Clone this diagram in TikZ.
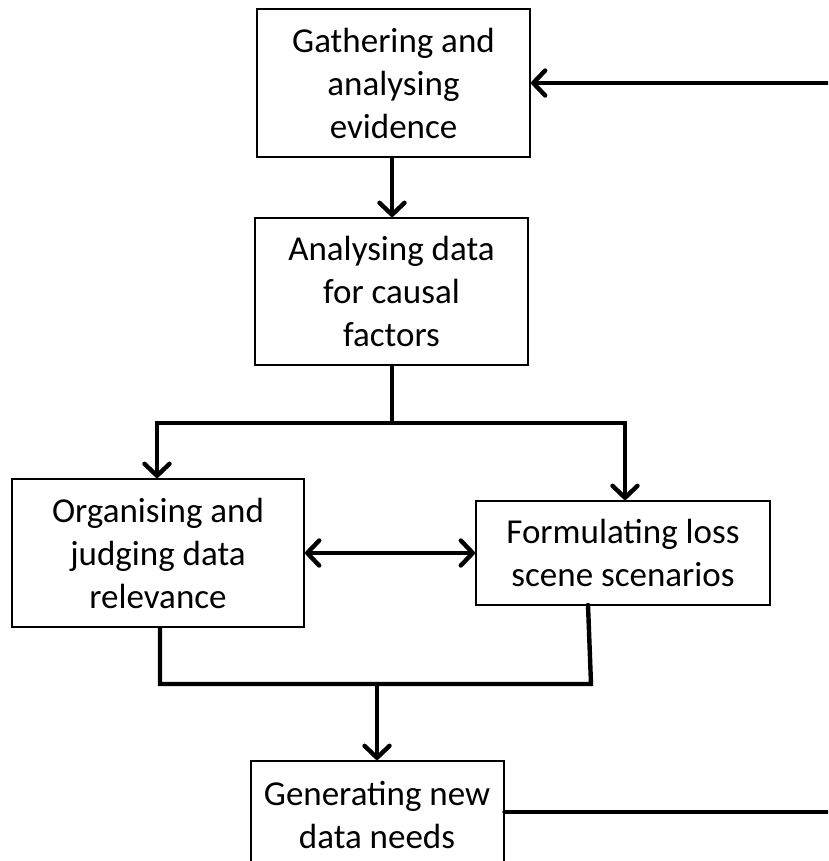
\documentclass[tikz,border=0pt]{standalone}
\usepackage{fontspec}
\setmainfont{Carlito}
\usetikzlibrary{arrows.meta}

\tikzset{
  stage/.style={draw=black, line width=2pt, fill=white, align=center,
    font=\fontsize{35}{43}\selectfont, inner sep=0pt},
  link/.style={line width=4.4pt, line cap=round, line join=miter},
  flow/.style={link, -{Straight Barb[length=12pt, width=25pt, line width=4.4pt, round]}},
  twoway/.style={link, {Straight Barb[length=12pt, width=25pt, line width=4.4pt, round]}-{Straight Barb[length=12pt, width=25pt, line width=4.4pt, round]}},
}

\begin{document}
\begin{tikzpicture}[x=1pt, y=-1pt]
  \useasboundingbox (0,0) rectangle (828,861);
  \clip (0,0) rectangle (828,861);
  \fill[white] (0,0) rectangle (828,861);

  % process stages
  \node[stage, minimum width=273pt, minimum height=148pt] (gather) at (393.5,83)
    {Gathering and\\analysing\\evidence};
  \node[stage, minimum width=273pt, minimum height=147pt] (causal) at (391.5,291.5)
    {Analysing data\\for causal\\factors};
  \node[stage, minimum width=292pt, minimum height=148pt] (organise) at (158,553)
    {Organising and\\judging data\\relevance};
  \node[stage, minimum width=294pt, minimum height=104pt] (scenario) at (623,553)
    {Formulating loss\\scene scenarios};
  \node[stage, minimum width=253pt, minimum height=108pt] (needs) at (377,815)
    {Generating new\\data needs};

  % junction points
  \coordinate (split) at (392,423);
  \coordinate (merge) at (377,684);
  \coordinate (loopR) at (860,812);
  \coordinate (loopT) at (860,83);

  % gather -> analyse
  \draw[flow] (gather.south -| 392,0) -- (causal.north -| 392,0);

  % split into the two parallel stages
  \draw[link] (causal.south -| split) -- (split);
  \draw[flow] (split) -- (157,423) -- (organise.north -| 157,0);
  \draw[flow] (split) -- (625,423) -- (scenario.north -| 625,0);

  % exchange between the parallel stages
  \draw[twoway] (organise.east) -- (scenario.west);

  % merge back together
  \draw[link] (organise.south -| 160,0) -- (160,684) -- (591,684) -- (588,605);
  \draw[flow] (merge) -- (needs.north);

  % feedback loop to the start
  \draw[link] (needs.east |- loopR) -- (loopR) -- (loopT);
  \draw[flow] (loopT) -- (gather.east);
\end{tikzpicture}
\end{document}
